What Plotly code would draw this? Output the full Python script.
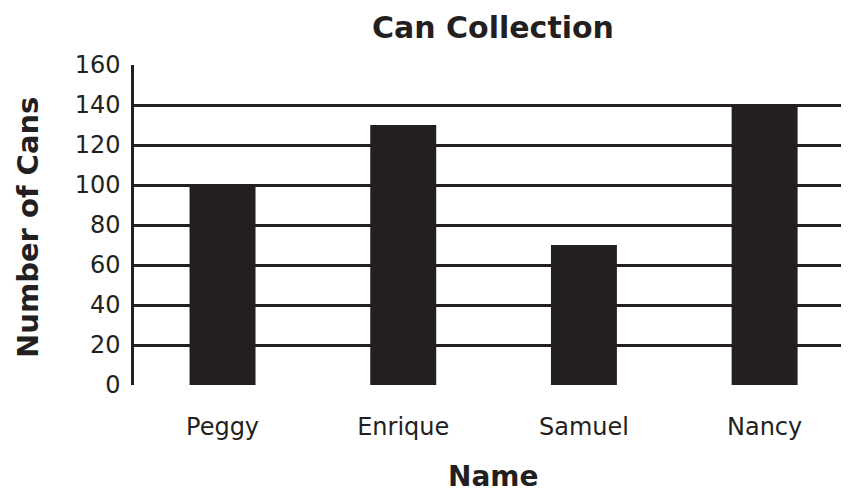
import plotly.graph_objects as go

names = ["Peggy", "Enrique", "Samuel", "Nancy"]
cans = [100, 130, 70, 140]
y_ticks = [0, 20, 40, 60, 80, 100, 120, 140, 160]

dark = "#231f20"

# page body adds an 8px offset, so the figure is drawn 8px smaller
OFF = 8
W, H = 849 - OFF, 494 - OFF
L, R, T = 134 - OFF, 0, 65 - OFF
B = H - (385 - OFF)
pw, ph = W - L - R, H - T - B


def px(x):
    return (x - OFF - L) / pw


def py(y):
    return (H - B - (y - OFF)) / ph


fig = go.Figure(go.Bar(x=names, y=cans, marker=dict(color=dark, line=dict(width=0)), width=0.365))

fig.update_layout(
    width=W, height=H,
    margin=dict(l=L, r=R, t=T, b=B, pad=0),
    plot_bgcolor="white", paper_bgcolor="white",
    showlegend=False,
    font=dict(family="DejaVu Sans, sans-serif", color=dark, size=22),
    xaxis=dict(
        range=[-0.49, 3.467], showgrid=False, zeroline=False, showline=False,
        ticks="outside", ticklen=20, tickcolor="rgba(0,0,0,0)",
        tickfont=dict(size=24, family="DejaVu Sans, sans-serif", color=dark),
    ),
    yaxis=dict(
        range=[0, 160], tickvals=y_ticks, ticktext=[str(v) for v in y_ticks],
        showgrid=True, gridcolor=dark, gridwidth=2.5,
        zeroline=False, showline=True, linecolor=dark, linewidth=2.5,
        ticks="outside", ticklen=6, tickcolor="rgba(0,0,0,0)",
        tickfont=dict(size=24, family="DejaVu Sans, sans-serif", color=dark),
    ),
)

fig.add_annotation(text="<b>Can Collection</b>", x=px(493), y=py(27), xref="paper", yref="paper",
                   showarrow=False, xanchor="center", yanchor="middle",
                   font=dict(size=30, family="DejaVu Sans, sans-serif", color=dark))
fig.add_annotation(text="<b>Name</b>", x=px(493), y=py(476), xref="paper", yref="paper",
                   showarrow=False, xanchor="center", yanchor="middle", borderpad=0,
                   font=dict(size=28, family="DejaVu Sans, sans-serif", color=dark))
fig.add_annotation(text="<b>Number of Cans</b>", x=px(28), y=py(228), xref="paper", yref="paper",
                   showarrow=False, xanchor="center", yanchor="middle", textangle=-90,
                   font=dict(size=29, family="DejaVu Sans, sans-serif", color=dark))

fig.write_html("out.html")
